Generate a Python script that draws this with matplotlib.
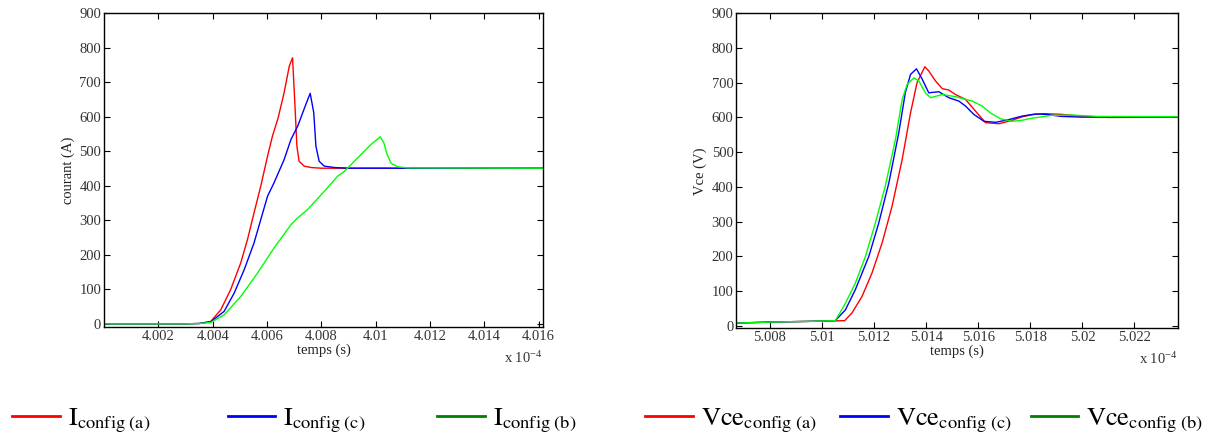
"""
Courant et tension Vce a la commutation pour trois configurations
"""

import matplotlib
matplotlib.use('Agg')
import matplotlib.pyplot as plt
from matplotlib.lines import Line2D

# courant (A), temps en unites de 1e-4 s
t_i_a = [4.0000, 4.0030, 4.0035, 4.00393, 4.0043, 4.00466, 4.00503, 4.00528,
         4.00552, 4.00577, 4.00602, 4.0062, 4.00641, 4.00663, 4.00682, 4.00694,
         4.00703, 4.0071, 4.00718, 4.00737, 4.00762, 4.0080, 4.0162]
i_a = [0, 0, 1, 7, 41, 99, 176, 244, 321, 399, 486, 544, 597, 670, 747, 771,
       631, 515, 471, 457, 453, 451, 451]

t_i_c = [4.0000, 4.0030, 4.0035, 4.00393, 4.00442, 4.00479, 4.00516, 4.00552,
         4.00577, 4.00602, 4.00626, 4.00663, 4.00688, 4.00713, 4.00743, 4.00759,
         4.00772, 4.0078, 4.00792, 4.00811, 4.00848, 4.0090, 4.0162]
i_c = [0, 0, 1, 6, 36, 89, 157, 234, 302, 370, 409, 476, 534, 573, 636, 668,
       612, 515, 471, 457, 453, 451, 451]

t_i_b = [4.0000, 4.0030, 4.0035, 4.00393, 4.00442, 4.00503, 4.00565, 4.00626,
         4.00688, 4.0071, 4.00749, 4.00811, 4.0086, 4.00885, 4.00934, 4.00983,
         4.01017, 4.0103, 4.01042, 4.01057, 4.01082, 4.01117, 4.0162]
i_b = [0, 0, 1, 4, 26, 79, 147, 220, 287, 305, 331, 384, 428, 442, 481, 520,
       542, 525, 491, 465, 455, 452, 451]

# tension Vce (V), temps en unites de 1e-4 s
t_v_a = [5.0067, 5.0080, 5.0095, 5.01087, 5.01115, 5.01154, 5.01192, 5.01231,
         5.01269, 5.01308, 5.0134, 5.01365, 5.01395, 5.0141, 5.01436, 5.01462,
         5.01487, 5.01513, 5.01551, 5.0159, 5.01628, 5.0168, 5.01731, 5.01769,
         5.01807, 5.01849, 5.0192, 5.0199, 5.0210, 5.0237]
v_a = [8, 11, 13, 15, 37, 85, 152, 239, 344, 479, 613, 700, 746, 734, 705, 683,
       679, 666, 652, 618, 585, 582, 592, 602, 608, 611, 609, 604, 600, 601]

t_v_c = [5.0067, 5.0080, 5.0095, 5.01051, 5.0109, 5.01128, 5.0118, 5.01218,
         5.01257, 5.01295, 5.0132, 5.0134, 5.01363, 5.01385, 5.0141, 5.01449,
         5.01487, 5.01526, 5.01551, 5.01583, 5.01622, 5.01667, 5.01718, 5.01769,
         5.0182, 5.0186, 5.0192, 5.0200, 5.0237]
v_c = [8, 11, 13, 15, 46, 104, 200, 296, 412, 556, 671, 724, 740, 710, 671, 674,
       657, 647, 633, 609, 589, 586, 594, 604, 610, 609, 603, 601, 601]

t_v_b = [5.0067, 5.0080, 5.0095, 5.01051, 5.0109, 5.01128, 5.01167, 5.01205,
         5.01243, 5.01282, 5.01308, 5.01327, 5.01353, 5.01372, 5.01397, 5.01417,
         5.01462, 5.01513, 5.01577, 5.01615, 5.01647, 5.01686, 5.01731, 5.01769,
         5.0180, 5.0188, 5.0196, 5.0206, 5.0237]
v_b = [8, 11, 13, 15, 65, 123, 200, 296, 402, 536, 652, 695, 714, 705, 671, 657,
       666, 660, 647, 633, 613, 596, 589, 592, 597, 606, 607, 603, 602]

ticks_i = [4.002, 4.004, 4.006, 4.008, 4.010, 4.012, 4.014, 4.016]
ticklabels_i = ['4.002', '4.004', '4.006', '4.008', '4.01', '4.012', '4.014', '4.016']
ticks_v = [5.008, 5.010, 5.012, 5.014, 5.016, 5.018, 5.020, 5.022]
ticklabels_v = ['5.008', '5.01', '5.012', '5.014', '5.016', '5.018', '5.02', '5.022']
yticks = [0, 100, 200, 300, 400, 500, 600, 700, 800, 900]

labels_i = [r'$\mathrm{I}_{\mathrm{config\ (a)}}$',
            r'$\mathrm{I}_{\mathrm{config\ (c)}}$',
            r'$\mathrm{I}_{\mathrm{config\ (b)}}$']
labels_v = [r'$\mathrm{Vce}_{\mathrm{config\ (a)}}$',
            r'$\mathrm{Vce}_{\mathrm{config\ (c)}}$',
            r'$\mathrm{Vce}_{\mathrm{config\ (b)}}$']
legend_colors = ['#ff0000', '#0000ff', '#008000']

plt.rcParams['font.family'] = ['Liberation Serif', 'DejaVu Serif']
plt.rcParams['mathtext.fontset'] = 'stix'

fig = plt.figure(figsize=(12.11, 4.42), dpi=100)
ax1 = fig.add_axes([0.0859, 0.2595, 0.3625, 0.7105])
ax2 = fig.add_axes([0.608, 0.2572, 0.3645, 0.7128])

ax1.plot(t_i_a, i_a, color='#ff0000', lw=1)
ax1.plot(t_i_c, i_c, color='#0000ff', lw=1)
ax1.plot(t_i_b, i_b, color='#00ff00', lw=1)
ax1.set_xlim(4.0000, 4.01616)
ax1.set_ylim(-10, 900)
ax1.set_xticks(ticks_i)
ax1.set_xticklabels(ticklabels_i)
ax1.set_ylabel('courant (A)', fontsize=10.5, labelpad=3)

ax2.plot(t_v_a, v_a, color='#ff0000', lw=1)
ax2.plot(t_v_c, v_c, color='#0000ff', lw=1)
ax2.plot(t_v_b, v_b, color='#00ff00', lw=1)
ax2.set_xlim(5.00671, 5.02366)
ax2.set_ylim(-7, 900)
ax2.set_xticks(ticks_v)
ax2.set_xticklabels(ticklabels_v)
ax2.set_ylabel('Vce (V)', fontsize=10.5, labelpad=3)

for ax in (ax1, ax2):
    ax.set_yticks(yticks)
    ax.tick_params(direction='in', top=True, right=True, length=4, width=0.8,
                   labelsize=10.5, labelcolor='#333333', pad=2)
    ax.set_xlabel('temps (s)', fontsize=10.5, labelpad=0, color='#222222')
    ax.yaxis.label.set_color('#222222')
    ax.text(1.0, -0.098, r'x 10$^{\mathregular{-4}}$', transform=ax.transAxes,
            ha='right', va='center', fontsize=10.5, color='#333333')
    for s in ax.spines.values():
        s.set_linewidth(1.0)

# legendes en bas
x_i = [0.010, 0.188, 0.361]
x_v = [0.533, 0.694, 0.851]
for k in range(3):
    h = Line2D([], [], color=legend_colors[k], lw=2)
    fig.legend([h], [labels_i[k]], loc='center left',
               bbox_to_anchor=(x_i[k], 0.048), frameon=False, fontsize=19,
               handlelength=1.8, handletextpad=0.3, borderpad=0,
               borderaxespad=0)
    h = Line2D([], [], color=legend_colors[k], lw=2)
    fig.legend([h], [labels_v[k]], loc='center left',
               bbox_to_anchor=(x_v[k], 0.048), frameon=False, fontsize=19,
               handlelength=1.8, handletextpad=0.3, borderpad=0,
               borderaxespad=0)

plt.savefig('out.png', dpi=100)
